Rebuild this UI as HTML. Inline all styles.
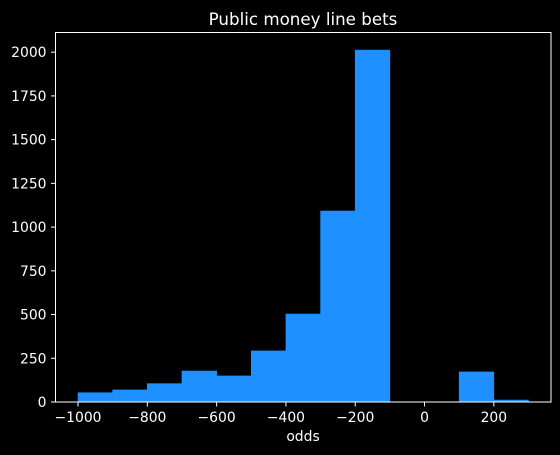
<!DOCTYPE html>
<html><head><meta charset="utf-8"><style>
html,body{margin:0;padding:0;background:#000;}
svg{display:block;font-family:"DejaVu Sans","Liberation Sans",sans-serif;}
</style></head><body>
<svg id="chart" width="560" height="455" viewBox="0 0 560 455">
<rect x="0" y="0" width="560" height="455" fill="#000"/>
<text x="303" y="25" fill="#fff" font-size="16.7" text-anchor="middle">Public money line bets</text>
<g id="bars"></g>
<g id="axes"></g>
<text x="303" y="441" fill="#fff" font-size="13.9" text-anchor="middle">odds</text>
</svg>
<script>
const binEdges = [-1000,-900,-800,-700,-600,-500,-400,-300,-200,-100,0,100,200,300];
const counts = [53,69,105,177,149,292,503,1092,2012,0,0,172,11];
const xTicks = [-1000,-800,-600,-400,-200,0,200];
const yTicks = [0,250,500,750,1000,1250,1500,1750,2000];

const L=55.5,R=551,T=32.5,B=402;
const xMin=-1065,xMax=365,yMax=2112.6;
const xs=v=>L+(v-xMin)/(xMax-xMin)*(R-L);
const ys=v=>B-v/yMax*(B-T);
const NS='http://www.w3.org/2000/svg';
const bars=document.getElementById('bars');
const axes=document.getElementById('axes');
function mk(t,a,p){const e=document.createElementNS(NS,t);for(const k in a)e.setAttribute(k,a[k]);p.appendChild(e);return e;}

counts.forEach((c,i)=>{
  const x0=xs(binEdges[i]),x1=xs(binEdges[i+1]);
  const r=mk('rect',{x:x0,y:ys(c),width:x1-x0,height:B-ys(c),fill:'#1e90ff',stroke:'#1e90ff','stroke-width':0.6},bars);
  
  
});

const frame=mk('rect',{x:L,y:T,width:R-L,height:B-T,fill:'none',stroke:'#fff','stroke-width':1},axes);



xTicks.forEach(v=>{
  const x=xs(v);
  const l=mk('line',{x1:x,x2:x,y1:B,y2:B+4.5,stroke:'#fff','stroke-width':1},axes);
  
  
  const t=mk('text',{x:x,y:B+20,fill:'#fff','font-size':13.9,'text-anchor':'middle'},axes);
  t.textContent=v<0?'\u2212'+(-v):String(v);
  
  
});
yTicks.forEach(v=>{
  const y=ys(v);
  const l=mk('line',{x1:L-4.5,x2:L,y1:y,y2:y,stroke:'#fff','stroke-width':1},axes);
  
  
  const t=mk('text',{x:L-9,y:y+5,fill:'#fff','font-size':13.9,'text-anchor':'end'},axes);
  t.textContent=String(v);
  
  
});
</script>
</body></html>
